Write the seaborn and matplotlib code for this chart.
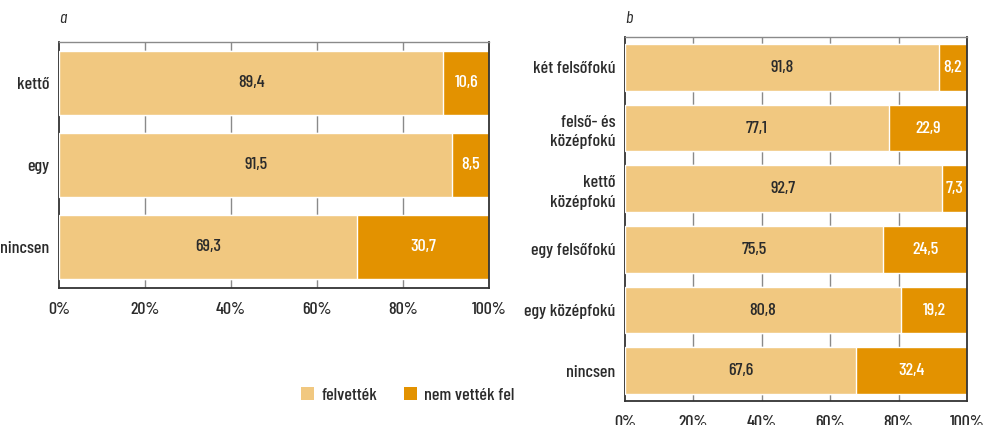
import matplotlib
matplotlib.use("Agg")
import matplotlib.pyplot as plt
import seaborn as sns
import pandas as pd
from matplotlib.patches import Patch
from matplotlib.ticker import FixedLocator, PercentFormatter

sns.set_style("white")
plt.rcParams['font.family'] = ['Barlow Condensed', 'DejaVu Sans']
plt.rcParams['font.weight'] = 'medium'

cats_a = ["kettő", "egy", "nincsen"]
felvettek_a = [89.4, 91.5, 69.3]
nem_a = [10.6, 8.5, 30.7]

cats_b = ["két felsőfokú", "felső- és\nközépfokú", "kettő\nközépfokú",
          "egy felsőfokú", "egy középfokú", "nincsen"]
felvettek_b = [91.8, 77.1, 92.7, 75.5, 80.8, 67.6]
nem_b = [8.2, 22.9, 7.3, 24.5, 19.2, 32.4]

series_names = ["felvették", "nem vették fel"]
xticks = [0, 20, 40, 60, 80, 100]

LIGHT = "#F1C880"
DARK = "#E39200"
TXT = "#2b2b2b"
FS = 13

fig = plt.figure(figsize=(9.85, 4.25), dpi=100)
ax_a = fig.add_axes([59/985, 1-288/425, (489-59)/985, (288-42)/425])
ax_b = fig.add_axes([625/985, 1-401/425, (967-625)/985, (401-37)/425])


def draw(ax, cats, light, dark, label, tpad):
    df = pd.DataFrame({"cat": cats, "light": light, "dark": dark})
    df["total"] = df["light"] + df["dark"]
    for x in [20, 40, 60, 80]:
        ax.axvline(x, color="#8a8a8a", lw=1.0, zorder=0)
    sns.barplot(data=df, x="total", y="cat", orient="h", color=DARK,
                width=0.77, saturation=1, ax=ax, zorder=2)
    sns.barplot(data=df, x="light", y="cat", orient="h", color=LIGHT,
                width=0.77, saturation=1, ax=ax, zorder=3)
    for i, (l, d) in enumerate(zip(light, dark)):
        ax.text(l/2, i, f"{l:.1f}".replace(".", ","), ha="center", va="center",
                fontsize=FS, color=TXT, zorder=5)
        ax.text(l + d/2, i, f"{d:.1f}".replace(".", ","), ha="center", va="center",
                fontsize=FS, color="white", zorder=5)
    n = len(cats)
    ax.set_xlim(0, 100)
    ax.set_ylim(n - 0.5, -0.5)
    ax.set_xlabel("")
    ax.set_ylabel("")
    ax.xaxis.set_major_locator(FixedLocator(xticks))
    ax.xaxis.set_major_formatter(PercentFormatter(decimals=0))
    ax.tick_params(axis="x", direction="out", length=5, width=1.2, color="#333333",
                   labelsize=FS, labelcolor=TXT, pad=5)
    ax.set_yticks(range(n))
    ax.set_yticklabels(cats, fontsize=FS, color=TXT, linespacing=1.4)
    ax.tick_params(axis="y", which="major", length=0, pad=7)
    ax.set_yticks([i - 0.5 for i in range(n + 1)], minor=True)
    ax.tick_params(axis="y", which="minor", direction="out", length=5, width=1.2,
                   color="#333333")
    for s in ["left", "bottom", "right"]:
        ax.spines[s].set_visible(True)
        ax.spines[s].set_color("#333333")
        ax.spines[s].set_linewidth(1.3)
    ax.spines["top"].set_visible(True)
    ax.spines["top"].set_color("#8a8a8a")
    ax.spines["top"].set_linewidth(1.0)
    ax.set_title(label, loc="left", fontsize=FS, style="italic", color=TXT, pad=tpad)


draw(ax_a, cats_a, felvettek_a, nem_a, "a", 14)
draw(ax_b, cats_b, felvettek_b, nem_b, "b", 10)

handles = [Patch(facecolor=LIGHT, edgecolor="none", label=series_names[0]),
           Patch(facecolor=DARK, edgecolor="none", label=series_names[1])]
fig.legend(handles=handles, loc="center", bbox_to_anchor=(408/985, 1-395/425),
           ncol=2, frameon=False, fontsize=FS, handlelength=0.7, handleheight=0.7,
           handletextpad=0.4, columnspacing=1.5, labelcolor=TXT)

fig.savefig("out.png", dpi=100)
